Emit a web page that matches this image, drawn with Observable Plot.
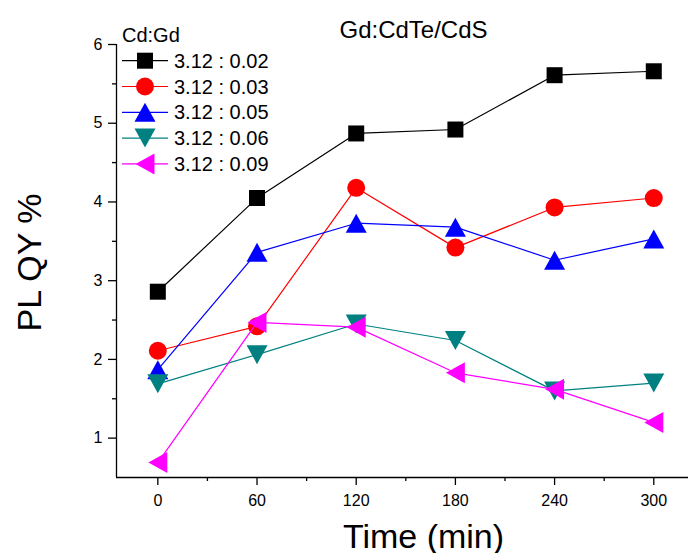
<!DOCTYPE html>
<html>
<head>
<meta charset="utf-8">
<script src="https://cdn.jsdelivr.net/npm/d3@7"></script>
<script src="https://cdn.jsdelivr.net/npm/@observablehq/plot@0.6"></script>
<style>
  html, body { margin: 0; padding: 0; background: #fff; }
  #chart svg { display: block; }
</style>
</head>
<body>
<div id="chart"></div>
<script>
// Reaction time (min) at which each sample was taken
const times = [0, 60, 120, 180, 240, 300];

// Cd:Gd ratios of the five series
const ratios = ["3.12 : 0.02", "3.12 : 0.03", "3.12 : 0.05", "3.12 : 0.06", "3.12 : 0.09"];

// PL quantum yield (%) for each ratio
const qy002 = [2.86, 4.05, 4.87, 4.92, 5.61, 5.66];
const qy003 = [2.11, 2.42, 4.18, 3.42, 3.93, 4.05];
const qy005 = [1.87, 3.36, 3.73, 3.68, 3.26, 3.53];
const qy006 = [1.69, 2.06, 2.45, 2.24, 1.60, 1.70];
const qy009 = [0.69, 2.47, 2.41, 1.83, 1.62, 1.20];

const xTicks = [0, 60, 120, 180, 240, 300];
const xMinor = [30, 90, 150, 210, 270];
const yTicks = [1, 2, 3, 4, 5, 6];
const yMinor = [1.5, 2.5, 3.5, 4.5, 5.5];

const colors = ["#000000", "#ff0000", "#0000ff", "#008080", "#ff00ff"];

// Marker shapes, dimensions expressed for r = 10
const unit = (size) => Math.sqrt(size / Math.PI) / 10;
const square = {draw(c, size) { const k = unit(size), h = 8 * k; c.rect(-h, -h, 2 * h, 2 * h); }};
const circle = {draw(c, size) { const k = unit(size), r = 9 * k; c.moveTo(r, 0); c.arc(0, 0, r, 0, 2 * Math.PI); }};
const triUp = {draw(c, size) { const k = unit(size); c.moveTo(0, -9.5 * k); c.lineTo(10.5 * k, 9.5 * k); c.lineTo(-10.5 * k, 9.5 * k); c.closePath(); }};
const triDown = {draw(c, size) { const k = unit(size); c.moveTo(0, 9.5 * k); c.lineTo(10.5 * k, -9.5 * k); c.lineTo(-10.5 * k, -9.5 * k); c.closePath(); }};
const triLeft = {draw(c, size) { const k = unit(size); c.moveTo(-9.5 * k, 0); c.lineTo(9.5 * k, -10.5 * k); c.lineTo(9.5 * k, 10.5 * k); c.closePath(); }};
const symbols = [square, circle, triUp, triDown, triLeft];

const seriesValues = [qy002, qy003, qy005, qy006, qy009];
const series = seriesValues.map((vals, i) => ({
  name: ratios[i],
  color: colors[i],
  symbol: symbols[i],
  rows: times.map((t, j) => ({time: t, qy: vals[j]}))
}));

const font = "'Liberation Sans', Arial, sans-serif";

const marks = [
  // axis lines (left and bottom only)
  Plot.ruleX([-25], {stroke: "#000", strokeWidth: 1.3}),
  Plot.ruleY([0.5], {stroke: "#000", strokeWidth: 1.3}),
  // major and minor ticks
  Plot.axisX({ticks: xTicks, tickSize: 8, tickPadding: 9, fontSize: 16, label: null, strokeWidth: 1.3, tickFormat: d3.format("d")}),
  Plot.axisX({ticks: xMinor, tickSize: 4, tickFormat: () => "", label: null, strokeWidth: 1.3}),
  Plot.axisY({ticks: yTicks, tickSize: 8, tickPadding: 6, fontSize: 16, label: null, strokeWidth: 1.3, tickFormat: d3.format("d")}),
  Plot.axisY({ticks: yMinor, tickSize: 4, tickFormat: () => "", label: null, strokeWidth: 1.3})
];

for (const s of series) {
  marks.push(Plot.line(s.rows, {x: "time", y: "qy", stroke: s.color, strokeWidth: 1.2}));
  marks.push(Plot.dot(s.rows, {x: "time", y: "qy", r: 10, symbol: s.symbol, fill: s.color, stroke: "none"}));
}

// title and axis labels
marks.push(
  Plot.text(["Gd:CdTe/CdS"], {frameAnchor: "top-left", dx: 297, dy: -7, textAnchor: "middle", lineAnchor: "bottom", fontSize: 24, fill: "#000"}),
  Plot.text(["Time (min)"], {frameAnchor: "bottom-left", dx: 307, dy: 70, textAnchor: "middle", lineAnchor: "bottom", fontSize: 34, fill: "#000"}),
  Plot.text(["PL QY %"], {frameAnchor: "left", dx: -76, dy: 1.5, rotate: -90, textAnchor: "middle", lineAnchor: "bottom", fontSize: 34, fill: "#000"})
);

const svg = Plot.plot({
  width: 688,
  height: 553,
  marginLeft: 116,
  marginRight: 0,
  marginTop: 44,
  marginBottom: 76,
  style: {fontFamily: font, color: "#000", background: "#fff", overflow: "visible"},
  x: {domain: [-25, 321]},
  y: {domain: [0.5, 6]},
  marks
});

// legend in the upper-left corner of the frame
const legend = d3.select(svg).append("g")
  .attr("font-family", font).attr("fill", "#000").attr("text-anchor", "start");
legend.append("text").attr("x", 122).attr("y", 41.5).attr("font-size", 20).text("Cd:Gd");
series.forEach((s, i) => {
  const y = 60.7 + i * 25.8;
  const g = legend.append("g");
  g.append("line").attr("x1", 122).attr("x2", 168).attr("y1", y).attr("y2", y)
    .attr("stroke", s.color).attr("stroke-width", 1.2);
  g.append("path").attr("transform", `translate(145,${y})`)
    .attr("d", d3.symbol(s.symbol, 100 * Math.PI)()).attr("fill", s.color);
  g.append("text").attr("x", 174).attr("y", y).attr("dy", "0.35em").attr("font-size", 20).text(s.name);
});

document.getElementById("chart").appendChild(svg);
</script>
</body>
</html>
